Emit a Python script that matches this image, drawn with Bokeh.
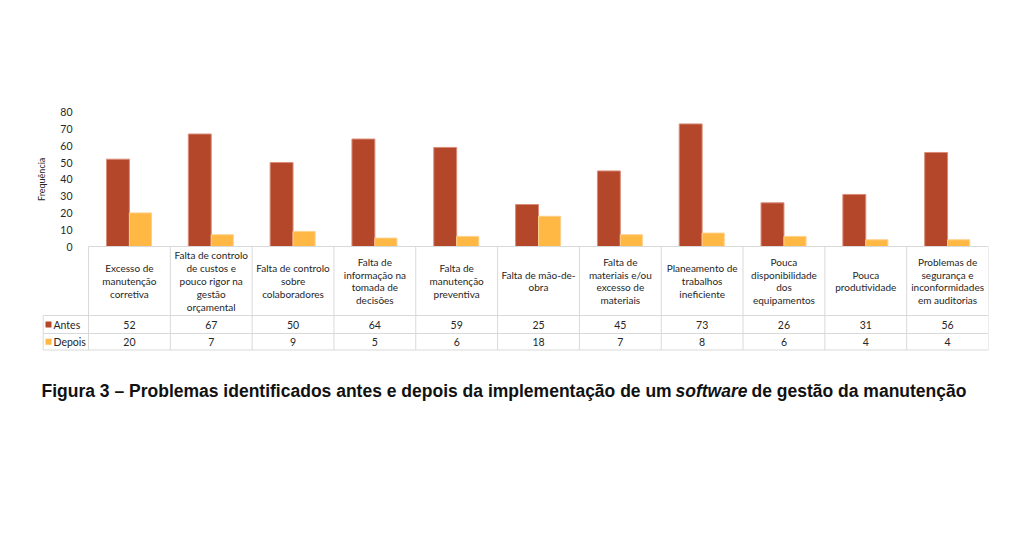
import math
from bokeh.plotting import figure
from bokeh.models import Range1d, FixedTicker, ColumnDataSource
from bokeh.transform import dodge
from bokeh.core.properties import value
from bokeh.embed import file_html
from bokeh.resources import INLINE

categories = [
    "Excesso de\nmanutenção\ncorretiva",
    "Falta de controlo\nde custos e\npouco rigor na\ngestão\norçamental",
    "Falta de controlo\nsobre\ncolaboradores",
    "Falta de\ninformação na\ntomada de\ndecisões",
    "Falta de\nmanutenção\npreventiva",
    "Falta de mão-de-\nobra",
    "Falta de\nmateriais e/ou\nexcesso de\nmateriais",
    "Planeamento de\ntrabalhos\nineficiente",
    "Pouca\ndisponibilidade\ndos\nequipamentos",
    "Pouca\nprodutividade",
    "Problemas de\nsegurança e\ninconformidades\nem auditorias",
]
antes = [52, 67, 50, 64, 59, 25, 45, 73, 26, 31, 56]
depois = [20, 7, 9, 5, 6, 18, 7, 8, 6, 4, 4]
series_names = ["Antes", "Depois"]
y_ticks = [0, 10, 20, 30, 40, 50, 60, 70, 80]
y_axis_title = "Frequência"
caption_parts = [
    "Figura 3 – Problemas identificados antes e depois da implementação de um",
    "software",
    "de gestão da manutenção",
]

C_ANTES = "#B4472A"
C_DEPOIS = "#FFB843"
GRID = "#D9D9D9"
TXT = "#262626"
FONT = "Lato"

# layout helpers (page pixel -> data units)
W = 900 / 11.0          # pixels per category
K = 1.679               # pixels per frequency unit
Y0 = 246                # page y of value 0
def px(x):
    return -0.5 + (x - 88) / W
def py(y):
    return (Y0 - y) / K

n = len(categories)
idx = list(range(n))
src = ColumnDataSource(dict(x=idx, antes=antes, depois=depois, cat=categories,
                            antes_s=[str(v) for v in antes],
                            depois_s=[str(v) for v in depois]))

p = figure(width=1024, height=537,
           x_range=Range1d(px(30), px(988)), y_range=Range1d(py(537), py(0)),
           min_border_left=30, min_border_right=36, min_border_top=0, min_border_bottom=0,
           x_axis_location=None, output_backend="svg", toolbar_location=None)
p.outline_line_color = None
p.xgrid.visible = False
p.ygrid.visible = False

# bars
p.vbar(x=dodge("x", -0.14, range=p.x_range), top="antes", width=0.28, source=src,
       fill_color=C_ANTES, line_color="#D98C78", line_width=1)
p.vbar(x=dodge("x", 0.135, range=p.x_range), top="depois", width=0.27, source=src,
       fill_color=C_DEPOIS, line_color="#FFD08A", line_width=1)

# y axis
ax = p.yaxis[0]
ax.ticker = FixedTicker(ticks=y_ticks)
ax.bounds = (0, 80)
ax.axis_line_color = None
ax.major_tick_line_color = None
ax.minor_tick_line_color = None
ax.major_label_standoff = -48
ax.major_label_text_font = FONT
ax.major_label_text_font_size = "10.5px"
ax.major_label_text_color = TXT
p.text(x=[px(41)], y=[(y_ticks[0] + y_ticks[-1]) / 2], text=[y_axis_title], angle=math.pi / 2,
       text_align="center", text_baseline="middle", text_font=value(FONT),
       text_font_size="9px", text_color=TXT)

# data table
T_TOP, T_HEAD, T_R1, T_R2 = 246, 315, 333, 349.5
leg_left = px(42.7)
hx0 = [-0.5, leg_left, leg_left, leg_left]
hx1 = [n - 0.5] * 4
hy = [py(T_TOP), py(T_HEAD), py(T_R1), py(T_R2)]
p.segment(x0=hx0, y0=hy, x1=hx1, y1=hy, line_color=GRID, line_width=1)
vx = [i - 0.5 for i in range(n + 1)] + [leg_left]
vy0 = [py(T_TOP)] * (n + 1) + [py(T_HEAD)]
vy1 = [py(T_R2)] * (n + 2)
p.segment(x0=vx, y0=vy0, x1=vx, y1=vy1, line_color=GRID, line_width=1)

p.text(x="x", y=py((T_TOP + T_HEAD) / 2), text="cat", source=src, text_align="center",
       text_baseline="middle", text_font=value(FONT), text_font_size="10px",
       text_color=TXT, text_line_height=1.08)
p.text(x="x", y=py((T_HEAD + T_R1) / 2), text="antes_s", source=src, text_align="center",
       text_baseline="middle", text_font=value(FONT), text_font_size="10.5px", text_color=TXT)
p.text(x="x", y=py((T_R1 + T_R2) / 2), text="depois_s", source=src, text_align="center",
       text_baseline="middle", text_font=value(FONT), text_font_size="10.5px", text_color=TXT)

rows_y = [py((T_HEAD + T_R1) / 2), py((T_R1 + T_R2) / 2)]
p.rect(x=[px(48)] * 2, y=rows_y, width=6, height=6, width_units="screen",
       height_units="screen", fill_color=[C_ANTES, C_DEPOIS], line_color=None)
p.text(x=[px(53)] * 2, y=rows_y, text=series_names, text_align="left",
       text_baseline="middle", text_font=value(FONT), text_font_size="10.5px", text_color=TXT)

# caption
cap_x = [px(41), px(675), px(751)]
cap_style = ["bold", "bold italic", "bold"]
for t, xx, st in zip(caption_parts, cap_x, cap_style):
    p.text(x=[xx], y=[py(390)], text=[t], text_align="left", text_baseline="middle",
           text_font=value("Liberation Sans"), text_font_size="17.5px",
           text_font_style=st, text_color="#111111")

open("out.html", "w").write(file_html(p, INLINE))
